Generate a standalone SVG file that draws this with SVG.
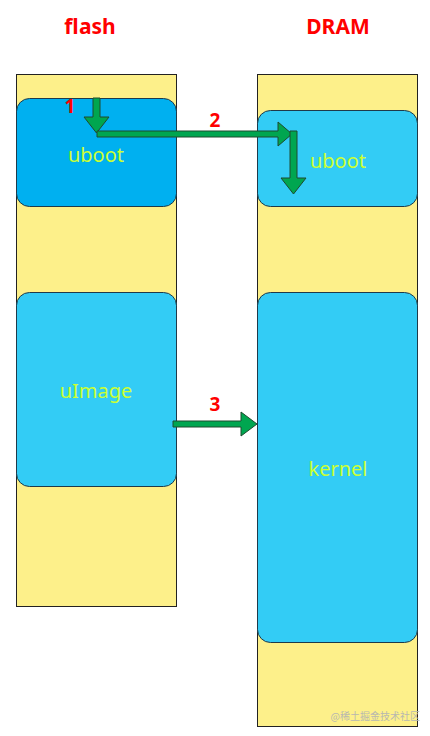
<svg xmlns="http://www.w3.org/2000/svg" width="430" height="736" viewBox="0 0 430 736">
<style>
.col{fill:#FDF08A;stroke:#222;stroke-width:1}
.blk{stroke:#1f3a4a;stroke-width:1}
.lbl{font-family:"Noto Sans","Open Sans",sans-serif;font-size:20px;fill:#CCFF33;text-anchor:middle}
.hd{font-family:"Noto Sans","Open Sans",sans-serif;font-size:21px;font-weight:bold;fill:#FF0000;text-anchor:middle}
.num{font-family:"Noto Sans","Open Sans",sans-serif;font-size:19px;font-weight:bold;fill:#FF0000;text-anchor:middle}
.arr{fill:#00A650;stroke:#1E4A2E;stroke-width:1;stroke-linejoin:miter}
</style>
<rect width="430" height="736" fill="#fff"/>
<text class="hd" x="90" y="34">flash</text>
<text class="hd" x="338" y="34">DRAM</text>
<g id="flash">
<rect class="col" x="16.5" y="74.5" width="160" height="532"/>
</g>
<g id="dram">
<rect class="col" x="257.5" y="74.5" width="160" height="652"/>
</g>
<g id="flash-uboot">
<rect class="blk" x="16.5" y="98.5" width="160" height="108" rx="13" fill="#00B0F0"/>
<text class="lbl" x="96" y="162">uboot</text>
</g>
<g id="flash-uimage">
<rect class="blk" x="16.5" y="292.5" width="160" height="194" rx="13" fill="#33CCF5"/>
<text class="lbl" x="96" y="398">uImage</text>
</g>
<g id="dram-uboot">
<rect class="blk" x="257.5" y="110.5" width="160" height="96" rx="13" fill="#33CCF5"/>
<text class="lbl" x="338" y="168">uboot</text>
</g>
<g id="dram-kernel">
<rect class="blk" x="257.5" y="292.5" width="160" height="350" rx="13" fill="#33CCF5"/>
<text class="lbl" x="338" y="476">kernel</text>
</g>
<g id="connectors">
<polygon class="arr" points="93,98 100,98 100,117 109,117 96.5,133 84,117 93,117"/>
<polygon class="arr" points="97,131 278,131 278,122 292,134 278,146 278,137 97,137"/>
<polygon class="arr" points="290,131 297,131 297,178 306,178 293.5,194 281,178 290,178"/>
<polygon class="arr" points="173,421 241,421 241,412 257,424 241,436 241,427 173,427"/>
<text class="num" x="70" y="113">1</text>
<text class="num" x="215" y="127">2</text>
<text class="num" x="215" y="411">3</text>
</g>
<text x="420" y="720" font-family="'Noto Sans CJK SC',sans-serif" font-size="10" fill="#b8b8b0" text-anchor="end">@稀土掘金技术社区</text>
</svg>
